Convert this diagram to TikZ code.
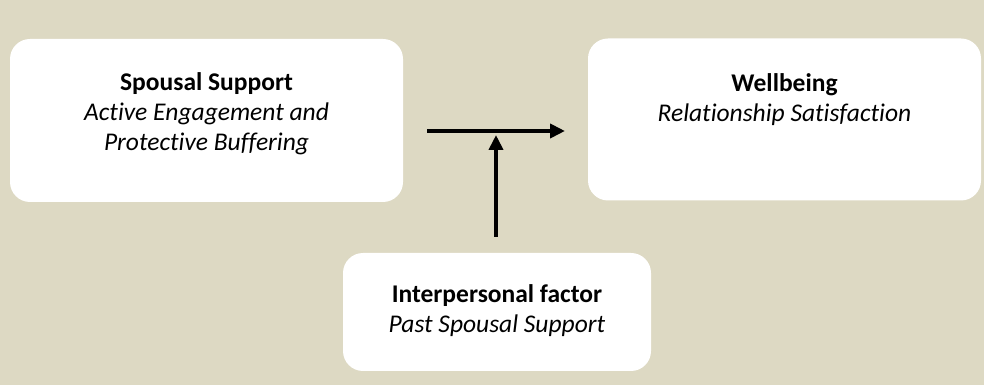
\documentclass[tikz,border=0pt]{standalone}
\usepackage{fontspec}
\setmainfont{Carlito}[Ligatures=NoCommon]
\usetikzlibrary{arrows.meta,calc}
\definecolor{bgtan}{HTML}{DDD9C3}
\begin{document}
\begin{tikzpicture}[x=1pt,y=1pt,
  box/.style={fill=white,draw=none,rounded corners=20pt,inner sep=0pt},
  boxtext/.style={anchor=north,align=center,inner sep=0pt,font={\fontsize{25.5}{30}\selectfont}},
  conn/.style={line width=4pt,-{Triangle[length=15pt,width=14pt]}}]
  % background
  \fill[bgtan] (0,0) rectangle (984,385);
  \useasboundingbox (0,0) rectangle (984,385);
  % boxes
  \node[box,minimum width=393pt,minimum height=163pt] (ss) at (206.5,264.5) {};
  \node[box,minimum width=393pt,minimum height=162pt] (wb) at (784.5,265.5) {};
  \node[box,minimum width=308pt,minimum height=118pt] (ip) at (497,73) {};
  % texts
  \node[boxtext] (sst) at (206.5,312.7) {\textbf{Spousal Support}\\\textit{Active Engagement and}\\\textit{Protective Buffering}};
  \node[boxtext] (wbt) at (784.5,311.2) {\textbf{Wellbeing}\\\textit{Relationship Satisfaction}};
  \node[boxtext] (ipt) at (497,100.2) {\textbf{Interpersonal factor}\\\textit{Past Spousal Support}};
  % connectors
  \coordinate (hs) at (427,254);
  \coordinate (he) at (565,254);
  \coordinate (vs) at ($(ip.north)+(-1,16)$);
  \coordinate (ve) at (496,250);
  \draw[conn] (hs) -- (he);
  \draw[conn] (vs) -- (ve);
\end{tikzpicture}
\end{document}
